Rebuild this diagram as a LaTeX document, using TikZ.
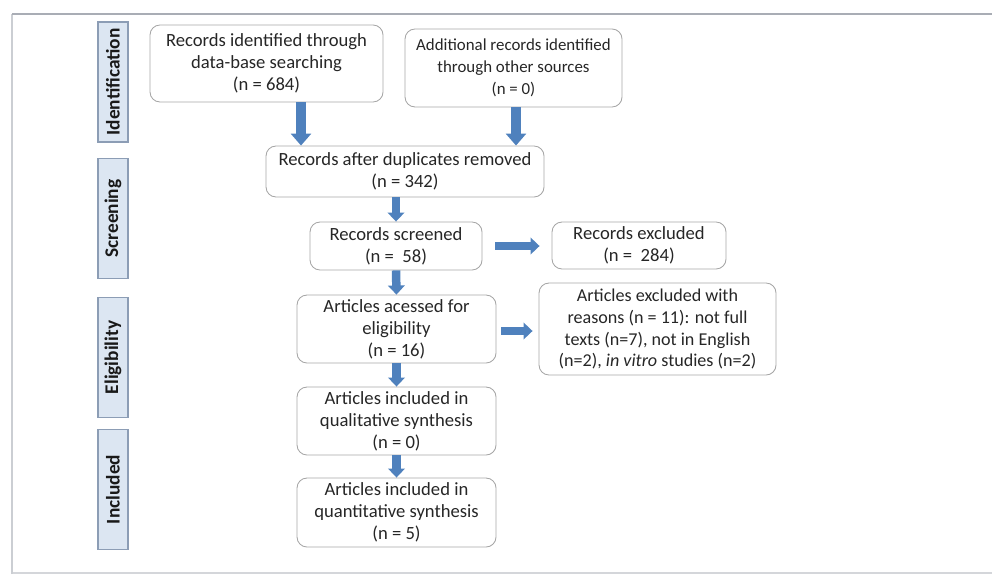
\documentclass[tikz,border=0pt]{standalone}
\usepackage{fontspec}
\setmainfont{Carlito}
\usetikzlibrary{positioning,arrows.meta}
\definecolor{arrowblue}{HTML}{4F81BD}
\definecolor{phasefill}{HTML}{DCE6F2}
\definecolor{phaseedge}{HTML}{8C9DB5}
\definecolor{boxedge}{HTML}{A6A6A6}
\definecolor{textgray}{HTML}{262626}
\definecolor{framegray}{HTML}{A9ADB5}

\begin{document}
\begin{tikzpicture}[
x=0.2mm, y=-0.2mm,
font=\fontsize{10.6}{12.5}\selectfont,
box/.style={draw=boxedge, line width=0.5pt, rounded corners=2mm, align=center, text=textgray, inner sep=1pt},
phase/.style={draw=phaseedge, line width=0.6pt, fill=phasefill, rotate=90, text=black!90, font=\fontsize{11}{13}\selectfont\bfseries, minimum width=24mm, minimum height=6mm, inner sep=0pt},
bigarrow/.style={-{Triangle[width=4mm, length=2.4mm]}, line width=2mm, draw=arrowblue},
arrow/.style={-{Triangle[width=3.3mm, length=1.8mm]}, line width=1.7mm, draw=arrowblue}
]
\useasboundingbox (0,0) rectangle (992,574);
% slide frame
\draw[framegray!50, line width=0.6pt] (12,573) -- (992,573);
\draw[framegray!60, line width=0.8pt] (12,574) -- (12,14);
\draw[framegray, line width=1pt] (12,14) -- (992,14);

% phases
\node[phase] (identification) at (113,82) {Identification};
\node[phase] (screening) at (113,218.5) {Screening};
\node[phase] (eligibility) at (113,357.5) {Eligibility};
\node[phase] (included) at (113,489.5) {Included};

% records
\node[box, minimum width=46.6mm, minimum height=15.4mm] (ident) at (266.5,63.5) {Records identified through\\data-base searching\\(n = 684)};
\node[box, font=\fontsize{9.6}{12.5}\selectfont, minimum width=43.4mm, minimum height=15.6mm] (other) at (513.5,68) {Additional records identified\\through other sources\\(n = 0)};
\node[box, minimum width=55.6mm, minimum height=10.2mm] (dedup) at (405,171.5) {Records after duplicates removed\\(n = 342)};
\node[box, minimum width=34.4mm, minimum height=9.6mm] (screened) at (396,246) {Records screened\\(n = \ 58)};
\node[box, minimum width=34.8mm, minimum height=9.4mm] (excluded) at (639,245.5) {Records excluded\\(n = \ 284)};

% articles
\node[box, minimum width=39.8mm, minimum height=13.6mm] (assessed) at (396.5,329) {Articles acessed for\\eligibility\\(n = 16)};
\node[box, font=\fontsize{10.3}{12.5}\selectfont, minimum width=47.4mm, minimum height=18.4mm] (reasons) at (657.5,329) {Articles excluded with\\reasons (n = 11): not full\\texts (n=7), not in English\\(n=2), \textit{in vitro} studies (n=2)};
\node[box, minimum width=39.8mm, minimum height=13.6mm] (qualitative) at (396.5,421) {Articles included in\\qualitative synthesis\\(n = 0)};
\node[box, minimum width=39.8mm, minimum height=13.8mm] (quantitative) at (396.5,512.5) {Articles included in\\quantitative synthesis\\(n = 5)};

% flow
\draw[bigarrow] ([xshift=6.9mm]ident.south) -- ([xshift=6.9mm]ident.south |- dedup.north);
\draw[bigarrow] ([xshift=0.5mm]other.south) -- ([xshift=0.5mm]other.south |- dedup.north);
\draw[arrow] (screened.north |- dedup.south) -- (screened.north);
\draw[arrow, shorten <=2.6mm, shorten >=2.4mm] (screened.east) -- (screened.east -| excluded.west);
\draw[arrow] (screened.south) -- (assessed.north);
\draw[arrow, shorten <=1mm, shorten >=1.2mm] ([yshift=-0.4mm]assessed.east) -- ([yshift=-0.4mm]assessed.east -| reasons.west);
\draw[arrow] (assessed.south) -- (qualitative.north);
\draw[arrow] (qualitative.south) -- (quantitative.north);
\end{tikzpicture}
\end{document}
